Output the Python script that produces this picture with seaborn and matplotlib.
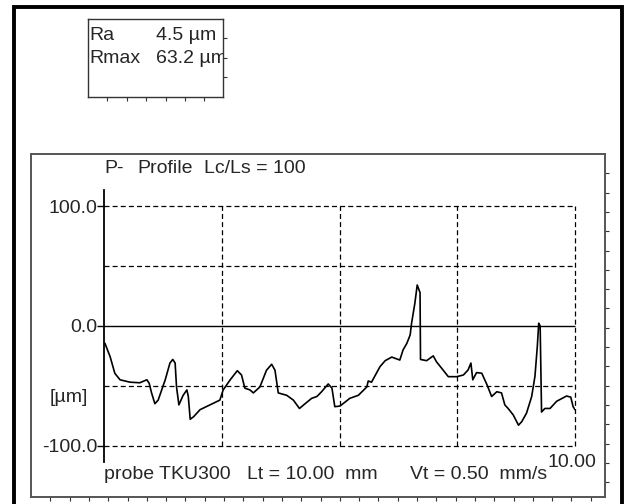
import numpy as np
import pandas as pd
import matplotlib
matplotlib.use("Agg")
import matplotlib.pyplot as plt
from matplotlib.patches import Rectangle
import seaborn as sns

# ---- data ----
x_mm = [0.02, 0.13, 0.23, 0.34, 0.55, 0.76, 0.91, 0.96, 1.01, 1.08, 1.15, 1.30, 1.40, 1.46,
        1.51, 1.54, 1.59, 1.68, 1.76, 1.79, 1.83, 1.90, 2.04, 2.25, 2.46, 2.53, 2.68, 2.83,
        2.92, 2.99, 3.10, 3.17, 3.31, 3.45, 3.56, 3.63, 3.70, 3.88, 4.02, 4.15, 4.27, 4.41,
        4.52, 4.62, 4.76, 4.84, 4.90, 5.01, 5.22, 5.40, 5.58, 5.61, 5.68, 5.86, 5.97, 6.11,
        6.28, 6.35, 6.43, 6.50, 6.53, 6.60, 6.65, 6.69, 6.71, 6.72, 6.85, 6.99, 7.06, 7.17,
        7.31, 7.49, 7.63, 7.73, 7.79, 7.83, 7.91, 8.02, 8.13, 8.23, 8.34, 8.44, 8.51, 8.58,
        8.69, 8.80, 8.87, 8.97, 9.08, 9.15, 9.20, 9.23, 9.26, 9.29, 9.36, 9.47, 9.61, 9.82,
        9.91, 9.96, 10.00]
profile_um = [-14.5, -25.7, -39.6, -45, -47, -47.5, -45, -48, -56, -65, -62, -45, -31, -28,
              -31, -51, -66, -58, -53.5, -59, -78, -76, -70, -66, -62, -53.5, -45, -37.4,
              -41, -52, -53.5, -56, -51, -37, -32, -37, -56, -58, -62, -69, -65, -60.5,
              -59, -55, -48.5, -52, -67.5, -67, -60.5, -58, -51, -46, -47, -34, -29, -26,
              -28.5, -20, -14.5, -7.5, 2.3, 19, 34.3, 30, 28, -28, -29, -25, -30, -35.4,
              -42.4, -42.4, -41, -36.8, -31, -45, -39, -39.5, -49, -59, -55, -56, -66, -69,
              -74.5, -83, -80, -73, -59, -42, -17, 2.3, 0, -72, -69, -69, -63, -58.6,
              -59.5, -67.5, -70]

y_ticks = [-100, 0, 100]
y_tick_labels = ["-100.0", "0.0", "100.0"]
grid_y = [-100, -50, 50, 100]
grid_x = [2.5, 5.0, 7.5, 10.0]
stat_names = ["Ra", "Rmax"]
stat_values = ["4.5 µm", "63.2 µm"]
title_parts = ["P-", "Profile", "Lc/Ls = 100"]
footer_parts = ["probe TKU300", "Lt = 10.00  mm", "Vt = 0.50  mm/s"]
x_end_label = "10.00"
y_unit_label = "[µm]"

df = pd.DataFrame({"x": x_mm, "y": profile_um})

# ---- styling ----
sns.set_style("white")
plt.rcParams["font.family"] = ["Liberation Sans", "DejaVu Sans"]
FS = 14

W, H = 627, 504
fig = plt.figure(figsize=(W / 100, H / 100), dpi=100)
fig.patch.set_facecolor("white")


def box(l, t, r, b):
    return [l / W, 1 - b / H, (r - l) / W, (b - t) / H]


# outer thick frame
fig.patches.append(Rectangle((13.5 / W, -0.05), (622 - 13.5) / W, 1 - 7 / H + 0.05,
                             transform=fig.transFigure, fill=False, lw=2.8,
                             ec="black", zorder=0))

# ---- statistics box ----
rax = fig.add_axes(box(88, 19, 223, 97))
rax.set_xlim(0, 135)
rax.set_ylim(78, 0)
for s in rax.spines.values():
    s.set_color("#333333")
    s.set_linewidth(1.0)
rax.set_xticks(np.arange(19.4, 134, 19.4))
rax.set_yticks(np.arange(19.3, 77, 19.3))
rax.tick_params(axis="x", bottom=True, top=False, direction="out", length=3,
                width=0.8, color="#333333", labelbottom=False)
rax.tick_params(axis="y", left=False, right=True, direction="out", length=3,
                width=0.8, color="#333333", labelleft=False)
row_base = [20.5, 44]
for nm, val, yb in zip(stat_names, stat_values, row_base):
    rax.text(1, yb, nm, fontsize=FS, va="baseline", ha="left", clip_on=True)
    rax.text(67.5, yb, val, fontsize=FS, va="baseline", ha="left", clip_on=True)

# ---- profile panel frame ----
pax = fig.add_axes(box(31, 154, 604.5, 497))
pax.set_xlim(0, 573.5)
pax.set_ylim(343, 0)
for s in pax.spines.values():
    s.set_color("#555555")
    s.set_linewidth(1.4)
pax.set_xticks(np.arange(19.3, 573, 19.3))
pax.set_yticks(np.arange(19.3, 343, 19.3))
pax.tick_params(axis="x", bottom=True, top=False, direction="out", length=3,
                width=0.8, color="#333333", labelbottom=False)
pax.tick_params(axis="y", left=False, right=True, direction="out", length=3,
                width=0.8, color="#333333", labelleft=False)

# ---- main profile axes ----
ax = fig.add_axes(box(104, 190, 575, 462))
ax.set_facecolor("none")
ax.set_xlim(0, 10)
ax.set_ylim(-113.8, 113.8)

dash = (0, (4, 2.5))
ax.hlines(grid_y, 0, 10, colors="black", linestyles=[dash], lw=0.9, zorder=1,
          clip_on=False)
ax.vlines(grid_x, -100, 100, colors="black", linestyles=[dash], lw=0.9, zorder=1,
          clip_on=False)
ax.hlines([0], 0, 10, colors="black", lw=1.0, zorder=1, clip_on=False)

sns.lineplot(data=df, x="x", y="y", ax=ax, color="black", lw=1.2,
             sort=False, estimator=None, zorder=3)

ax.set_xlabel("")
ax.set_ylabel("")
for side in ["top", "right", "bottom"]:
    ax.spines[side].set_visible(False)
ax.spines["left"].set_color("black")
ax.spines["left"].set_linewidth(1.3)
ax.set_xticks([])
ax.set_yticks(y_ticks)
ax.set_yticklabels(y_tick_labels)
ax.tick_params(axis="y", left=True, direction="out", length=5, width=1.0,
               color="black", pad=0, labelsize=FS)

ax.text(-0.34, -60, y_unit_label, fontsize=FS, ha="right", va="center")

# title pieces (pixel positions inside the panel)
title_x = [0, 33, 100]
for t, dx in zip(title_parts, title_x):
    ax.text(dx / 47.1, (326 - 173) / 1.195, t, fontsize=FS, ha="left", va="baseline",
            clip_on=False)

footer_x = [0, 143, 306]
for t, dx in zip(footer_parts, footer_x):
    ax.text(dx / 47.1, (326 - 479) / 1.195, t, fontsize=FS, ha="left", va="baseline",
            clip_on=False)

ax.text(9.93, (326 - 467) / 1.195, x_end_label, fontsize=FS, ha="center", va="baseline",
        clip_on=False)

fig.savefig("out.png", dpi=100, facecolor="white")
